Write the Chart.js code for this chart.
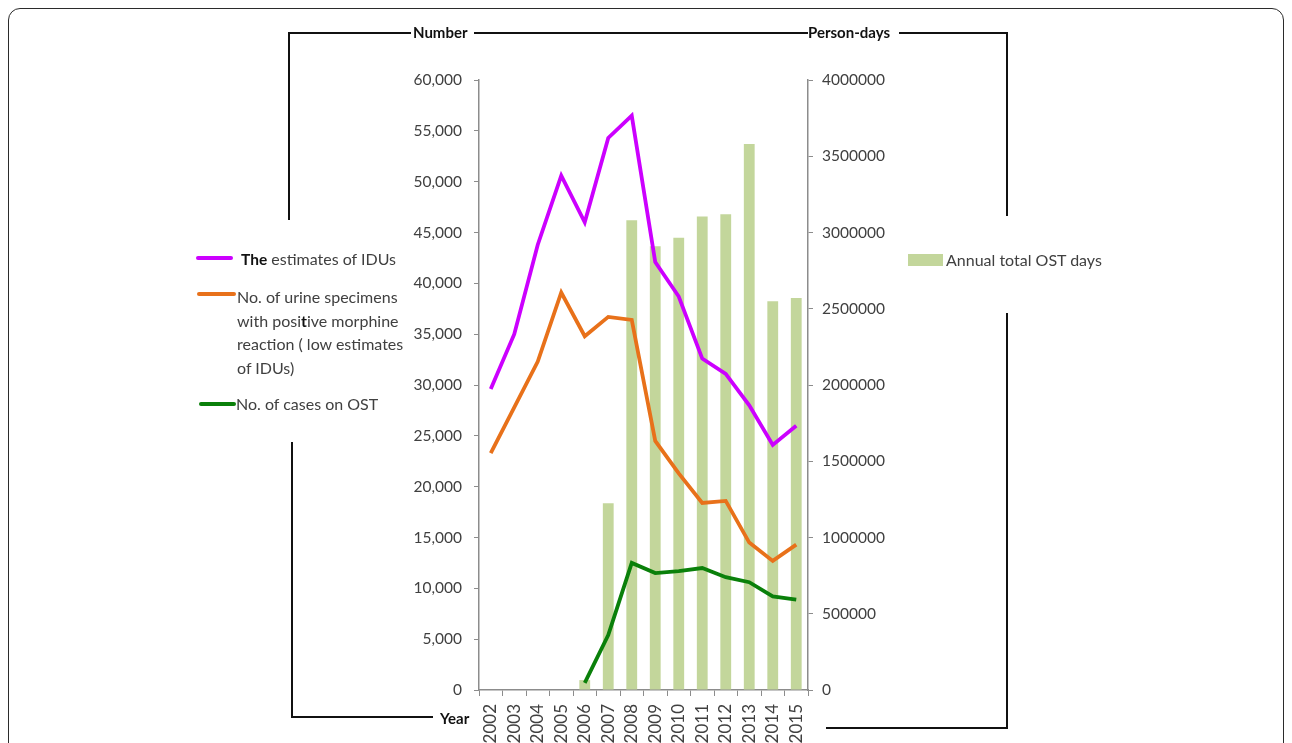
<!DOCTYPE html>
<html>
<head>
<meta charset="utf-8">
<script src="https://cdn.jsdelivr.net/npm/chart.js@4"></script>
<style>
  html, body { margin: 0; padding: 0; background: #fff; overflow: hidden; }
  body { width: 1292px; height: 743px; position: relative; font-family: Lato, "Open Sans", sans-serif; }
  #frame { position: absolute; left: 8px; top: 8px; width: 1274px; height: 780px; border: 1.5px solid #2b2b2b; border-radius: 12px; }
  #wrap { position: absolute; left: 0; top: 0; width: 1292px; height: 743px; }
  .ln { position: absolute; background: #111; }
  .ttl { position: absolute; font-weight: bold; font-size: 15px; color: #111; line-height: 18px; }
  .leg { position: absolute; font-size: 16px; color: #404040; line-height: 23.5px; }
  .sw { position: absolute; height: 4px; border-radius: 2px; }
</style>
</head>
<body>
<div id="frame"></div>
<div id="wrap"><canvas id="myChart" width="1292" height="743"></canvas></div>

<!-- bracket lines round the axes -->
<div class="ln" style="left:288px;top:32px;width:123px;height:2px"></div>
<div class="ln" style="left:288px;top:32px;width:2px;height:188px"></div>
<div class="ln" style="left:474px;top:32px;width:334px;height:2px"></div>
<div class="ln" style="left:899px;top:32px;width:109px;height:2px"></div>
<div class="ln" style="left:1006px;top:32px;width:2px;height:184px"></div>
<div class="ln" style="left:291px;top:442px;width:2px;height:276px"></div>
<div class="ln" style="left:291px;top:716px;width:142px;height:2px"></div>
<div class="ln" style="left:1006px;top:313px;width:2px;height:416px"></div>
<div class="ln" style="left:826px;top:727px;width:182px;height:2px"></div>

<div class="ttl" style="left:413px;top:23px">Number</div>
<div class="ttl" style="left:808px;top:23px">Person-days</div>
<div class="ttl" style="left:440px;top:709px">Year</div>

<!-- legend, left side -->
<div class="sw" id="sw0" style="left:196px;top:256px;width:37px"></div>
<div class="leg" style="left:241px;top:247px"><b style="color:#111;font-size:15.5px">The</b> estimates of IDUs</div>
<div class="sw" id="sw1" style="left:197px;top:292px;width:39px"></div>
<div class="leg" style="left:237px;top:285px;width:172px">No. of urine specimens with posi<b style="color:#111">t</b>ive morphine reaction ( low estimates of IDUs)</div>
<div class="sw" id="sw2" style="left:199px;top:402px;width:37px"></div>
<div class="leg" style="left:236px;top:392px">No. of cases on OST</div>

<!-- legend, right side -->
<div id="sw3" style="position:absolute;left:908px;top:254px;width:35px;height:12px"></div>
<div class="leg" style="left:946px;top:248px">Annual total OST days</div>

<script>
const years = ["2002", "2003", "2004", "2005", "2006", "2007", "2008", "2009", "2010", "2011", "2012", "2013", "2014", "2015"];
const idus = [29600, 35000, 43800, 50600, 46000, 54300, 56500, 42100, 38700, 32600, 31100, 28000, 24100, 26000];
const urinePositive = [23300, 27800, 32300, 39100, 34800, 36700, 36400, 24500, 21300, 18400, 18600, 14500, 12700, 14300];
const ostCases = [null, null, null, null, 700, 5400, 12500, 11500, 11700, 12000, 11100, 10600, 9200, 8900];
const ostDays = [null, null, null, null, 65000, 1225000, 3080000, 2910000, 2965000, 3105000, 3120000, 3580000, 2550000, 2570000];

const colores = ["#cc00ff", "#e8711a", "#0a800a", "#c3d69b"];
["sw0", "sw1", "sw2", "sw3"].forEach((id, i) => {
    document.querySelector("#" + id).style.background = colores[i];
});

const tickFont = { family: "Lato", size: 15.5 };
const ejeGris = "#8c8c8c";

function linea(label, data, color) {
    return {
        type: "line",
        label,
        data,
        yAxisID: "y",
        borderColor: color,
        backgroundColor: color,
        borderWidth: 3.8,
        pointRadius: 0,
        tension: 0,
        order: 1
    };
}

const data = {
    labels: years,
    datasets: [
        linea("The estimates of IDUs", idus, colores[0]),
        linea("No. of urine specimens with positive morphine reaction ( low estimates of IDUs)", urinePositive, colores[1]),
        linea("No. of cases on OST", ostCases, colores[2]),
        {
            type: "bar",
            label: "Annual total OST days",
            data: ostDays,
            yAxisID: "y2",
            backgroundColor: colores[3],
            categoryPercentage: 1,
            barPercentage: 0.46,
            order: 2
        }
    ]
};

const config = {
    type: "bar",
    data,
    options: {
        responsive: false,
        devicePixelRatio: 1,
        animation: false,
        layout: { padding: { left: 400, right: 394, top: 80, bottom: 0 } },
        plugins: { legend: { display: false }, tooltip: { enabled: false } },
        scales: {
            x: {
                afterFit: (scale) => { scale.height = 53; },
                grid: { drawOnChartArea: false, tickLength: 6, color: ejeGris },
                border: { color: ejeGris, width: 1.5 },
                ticks: { font: { family: "Lato", size: 17 }, color: "#404040", minRotation: 90, maxRotation: 90, padding: 8 }
            },
            y: {
                position: "left",
                min: 0,
                max: 60000,
                afterFit: (scale) => { scale.width = 79; },
                grid: { drawOnChartArea: false, tickLength: 5, color: ejeGris },
                border: { color: ejeGris, width: 1.5 },
                ticks: {
                    stepSize: 5000,
                    font: tickFont,
                    color: "#404040",
                    padding: 12,
                    callback: (v) => v.toLocaleString("en-US")
                }
            },
            y2: {
                position: "right",
                min: 0,
                max: 4000000,
                afterFit: (scale) => { scale.width = 90; },
                grid: { drawOnChartArea: false, tickLength: 5, color: ejeGris },
                border: { color: ejeGris, width: 1.5 },
                ticks: {
                    stepSize: 500000,
                    font: tickFont,
                    color: "#404040",
                    padding: 9,
                    callback: (v) => String(v)
                }
            }
        }
    }
};

const myChart = new Chart(document.querySelector("#myChart"), config);
</script>
</body>
</html>
